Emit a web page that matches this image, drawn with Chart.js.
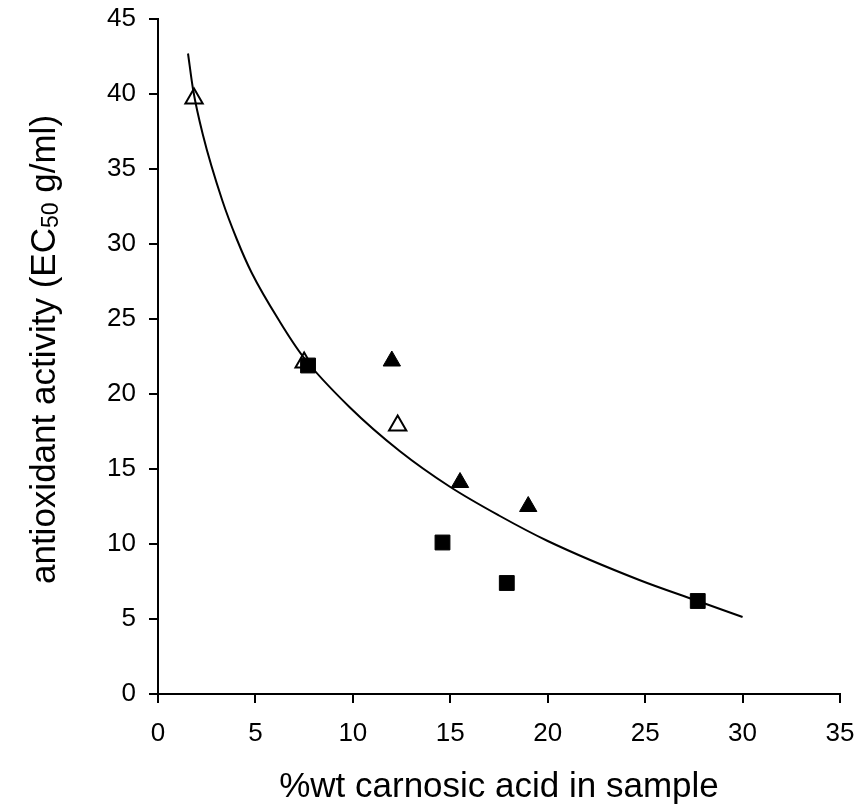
<!DOCTYPE html>
<html lang="en">
<head>
    <meta charset="UTF-8">
    <title>Antioxidant activity vs carnosic acid</title>
    <style>
        body, html {
            margin: 0;
            padding: 0;
            background: #fff;
        }
        #wrap {
            width: 865px;
            height: 811px;
        }
    </style>
    <script src="https://cdn.jsdelivr.net/npm/chart.js"></script>
</head>
<body>
    <div id="wrap">
        <canvas id="scatterChart" width="865" height="811"></canvas>
    </div>

    <script>
        const FONT = "'Liberation Sans', Arial, sans-serif";

        // open triangles
        const openTriX = [1.85, 7.5, 12.3];
        const openTriY = [39.7, 22.1, 17.9];

        // filled triangles
        const fillTriX = [12.0, 15.5, 19.0];
        const fillTriY = [22.2, 14.1, 12.5];

        // filled squares
        const squareX = [7.7, 14.6, 17.9, 27.7];
        const squareY = [21.9, 10.1, 7.4, 6.2];

        // trend curve, points
        const curveX = [1.54, 1.8, 2.3, 3.3, 4.05, 4.8, 6.26, 7.44, 9.85, 12.4, 15.0, 17.5, 20.0, 24.7, 27.7, 30.0];
        const curveY = [42.7, 40.3, 37.3, 32.9, 30.3, 28.1, 24.8, 22.5, 19.1, 16.2, 13.8, 11.9, 10.2, 7.6, 6.2, 5.13];

        const xTicks = [0, 5, 10, 15, 20, 25, 30, 35];
        const yTicks = [0, 5, 10, 15, 20, 25, 30, 35, 40, 45];

        const xTitle = '%wt carnosic acid in sample';
        const yTitleParts = ['antioxidant activity (EC', '50', ' g/ml)'];

        const toPts = (xs, ys) => xs.map((x, i) => ({ x: x, y: ys[i] }));

        // y title drawn by hand so the 50 can be a subscript
        const yTitlePlugin = {
            id: 'yTitle',
            afterDraw(chart) {
                const ctx = chart.ctx;
                const big = '35px ' + FONT;
                const small = '23px ' + FONT;
                ctx.save();
                ctx.font = big;
                const w0 = ctx.measureText(yTitleParts[0]).width;
                const w2 = ctx.measureText(yTitleParts[2]).width;
                ctx.font = small;
                const w1 = ctx.measureText(yTitleParts[1]).width;
                const total = w0 + w1 + w2;
                const midY = (chart.chartArea.top + chart.chartArea.bottom) / 2 - 7;
                ctx.translate(55, midY);
                ctx.rotate(-Math.PI / 2);
                ctx.fillStyle = '#000';
                ctx.textBaseline = 'alphabetic';
                ctx.textAlign = 'left';
                let x = -total / 2;
                ctx.font = big;
                ctx.fillText(yTitleParts[0], x, 0);
                x += w0;
                ctx.font = small;
                ctx.fillText(yTitleParts[1], x, 3);
                x += w1;
                ctx.font = big;
                ctx.fillText(yTitleParts[2], x, 0);
                ctx.restore();
            }
        };

        const ctx = document.getElementById('scatterChart').getContext('2d');

        const data = {
            datasets: [
                {
                    label: 'fit',
                    type: 'line',
                    data: toPts(curveX, curveY),
                    borderColor: '#000',
                    borderWidth: 2,
                    pointRadius: 0,
                    fill: false,
                    cubicInterpolationMode: 'monotone',
                    order: 2
                },
                {
                    label: 'open triangles',
                    data: toPts(openTriX, openTriY),
                    pointStyle: 'triangle',
                    pointRadius: 10,
                    backgroundColor: 'rgba(255,255,255,0)',
                    borderColor: '#000',
                    borderWidth: 2,
                    order: 3
                },
                {
                    label: 'filled triangles',
                    data: toPts(fillTriX, fillTriY),
                    pointStyle: 'triangle',
                    pointRadius: 10,
                    backgroundColor: '#000',
                    borderColor: '#000',
                    borderWidth: 1,
                    order: 1
                },
                {
                    label: 'squares',
                    data: toPts(squareX, squareY),
                    pointStyle: 'rect',
                    pointRadius: 10.5,
                    backgroundColor: '#000',
                    borderColor: '#000',
                    borderWidth: 1,
                    order: 0
                }
            ]
        };

        const options = {
            responsive: false,
            animation: false,
            layout: {
                padding: { top: 19, right: 25, left: 0, bottom: 0 }
            },
            plugins: {
                legend: { display: false },
                tooltip: { enabled: false }
            },
            scales: {
                x: {
                    type: 'linear',
                    min: 0,
                    max: 35,
                    afterBuildTicks: (scale) => {
                        scale.ticks = xTicks.map(v => ({ value: v }));
                    },
                    afterFit: (scale) => {
                        scale.height = 117;
                        scale.paddingLeft = 0;
                        scale.paddingRight = 0;
                    },
                    grid: {
                        display: true,
                        drawOnChartArea: false,
                        drawTicks: true,
                        tickLength: 9,
                        color: '#000',
                        lineWidth: 2
                    },
                    border: { display: true, color: '#000', width: 2 },
                    ticks: {
                        color: '#000',
                        padding: 15,
                        maxRotation: 0,
                        font: { family: FONT, size: 26 }
                    },
                    title: {
                        display: true,
                        text: xTitle,
                        color: '#000',
                        padding: { top: 0, bottom: 3 },
                        font: { family: FONT, size: 35 }
                    }
                },
                y: {
                    type: 'linear',
                    min: 0,
                    max: 45,
                    afterBuildTicks: (scale) => {
                        scale.ticks = yTicks.map(v => ({ value: v }));
                    },
                    afterFit: (scale) => {
                        scale.width = 158;
                        scale.paddingTop = 0;
                        scale.paddingBottom = 0;
                    },
                    grid: {
                        display: true,
                        drawOnChartArea: false,
                        drawTicks: true,
                        tickLength: 9,
                        color: '#000',
                        lineWidth: 2
                    },
                    border: { display: true, color: '#000', width: 2 },
                    ticks: {
                        color: '#000',
                        padding: 13,
                        font: { family: FONT, size: 26 }
                    }
                }
            }
        };

        new Chart(ctx, {
            type: 'scatter',
            data: data,
            options: options,
            plugins: [yTitlePlugin]
        });
    </script>
</body>
</html>
